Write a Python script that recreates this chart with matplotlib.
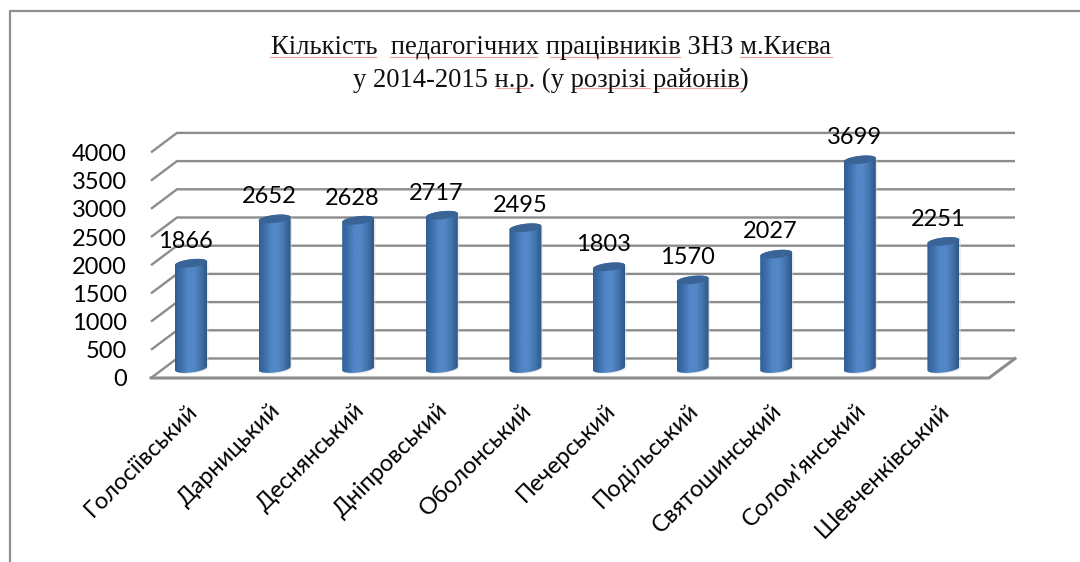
import numpy as np
import matplotlib
matplotlib.use("Agg")
import matplotlib.pyplot as plt
from matplotlib.colors import LinearSegmentedColormap
from matplotlib.lines import Line2D
from matplotlib.patches import Polygon
from matplotlib.transforms import ScaledTranslation

districts = ["Голосіївський", "Дарницький", "Деснянський", "Дніпровський", "Оболонський",
             "Печерський", "Подільський", "Святошинський", "Солом'янський", "Шевченківський"]
teachers = [1866, 2652, 2628, 2717, 2495, 1803, 1570, 2027, 3699, 2251]
y_ticks = [0, 500, 1000, 1500, 2000, 2500, 3000, 3500, 4000]

W, H = 1080, 562
LABEL_FONT = ["Lato", "Open Sans", "DejaVu Sans"]
TITLE_FONT = ["Liberation Serif", "DejaVu Serif"]
LABEL_SIZE = 17
GRID = "#8c8c8c"

# plot box in pixels of the picture
LEFT, RIGHT, TOP, BOTTOM = 151, 1015, 132, 378
PX_PER_UNIT = 0.0564
PX_PER_CAT = 83.6
FIRST_BAR = 191

fig = plt.figure(figsize=(W / 100, H / 100), dpi=100)
ax = fig.add_axes([LEFT / W, 1 - BOTTOM / H, (RIGHT - LEFT) / W, (BOTTOM - TOP) / H])
ax.set_xlim((LEFT - FIRST_BAR) / PX_PER_CAT, (RIGHT - FIRST_BAR) / PX_PER_CAT)
ax.set_ylim(0, (BOTTOM - TOP) / PX_PER_UNIT)
ax.patch.set_visible(False)
for s in ax.spines.values():
    s.set_visible(False)

# depth of the fake 3d box, in data units
back_dx = 26 / PX_PER_CAT
back_dy = 19.5 / PX_PER_UNIT
front_right = ax.get_xlim()[1] - back_dx
x_left = ax.get_xlim()[0]

# grid on back wall and side wall
for v in y_ticks:
    ax.plot([x_left, x_left + back_dx, ax.get_xlim()[1]], [v, v + back_dy, v + back_dy],
            color=GRID, lw=1.7, solid_capstyle="butt", solid_joinstyle="miter", clip_on=False, zorder=1)
ax.plot([x_left, front_right, ax.get_xlim()[1]], [0, 0, back_dy], color=GRID, lw=2.2,
        solid_joinstyle="miter", clip_on=False, zorder=1)

# cylinders
bar_cmap = LinearSegmentedColormap.from_list(
    "bar", ["#305f96", "#3f70ab", "#5287c8", "#5487c5", "#4374ad", "#2f5786"])
half_w = 16 / PX_PER_CAT
bar_base = 9.5 / PX_PER_UNIT
cap_h = 4 / PX_PER_UNIT
cap_tilt = 1.8 / PX_PER_UNIT
t = np.linspace(0, np.pi, 40)
grad = np.linspace(0, 1, 64).reshape(1, -1)
for i, v in enumerate(teachers):
    top = v + bar_base
    cx = i
    xs = cx + half_w * np.cos(t)
    top_arc = top + cap_h * np.sin(t) + cap_tilt * np.cos(t)
    low_arc = bar_base - cap_h * np.sin(t) + cap_tilt * np.cos(t)
    pts = np.vstack([np.column_stack([xs, low_arc]), np.column_stack([xs[::-1], top_arc[::-1]])])
    shadow = Polygon(pts + [1.5 / PX_PER_CAT, -1 / PX_PER_UNIT], closed=True, fc="#d5d8dc", ec="none",
                     alpha=0.5, zorder=2, clip_on=False)
    ax.add_patch(shadow)
    img = ax.imshow(grad, cmap=bar_cmap, extent=[cx - half_w, cx + half_w, bar_base - cap_h - 50, top + cap_h + 50],
                    aspect="auto", zorder=3, interpolation="bilinear")
    body = Polygon(pts, closed=True, transform=ax.transData)
    img.set_clip_path(body)
    tt = np.linspace(0, 2 * np.pi, 60)
    cap = Polygon(np.column_stack([cx + half_w * np.cos(tt), top + cap_h * np.sin(tt) + cap_tilt * np.cos(tt)]),
                  closed=True, fc="#3a6496", ec="none", zorder=4, clip_on=False)
    ax.add_patch(cap)
    ax.annotate(str(v), (cx, top), xytext=(-4, 16), textcoords="offset points", ha="center", va="center",
                fontsize=LABEL_SIZE, family=LABEL_FONT, color="black", zorder=5, annotation_clip=False)

ax.set_xlim((LEFT - FIRST_BAR) / PX_PER_CAT, (RIGHT - FIRST_BAR) / PX_PER_CAT)
ax.set_ylim(0, (BOTTOM - TOP) / PX_PER_UNIT)

ax.set_yticks(y_ticks)
ax.set_yticklabels([str(v) for v in y_ticks], fontsize=LABEL_SIZE, family=LABEL_FONT)
ax.set_xticks(range(len(districts)))
ax.set_xticklabels(districts, fontsize=LABEL_SIZE, family=LABEL_FONT, rotation=45, ha="right", va="center",
                   rotation_mode="anchor")
ax.tick_params(axis="y", length=0, pad=17.5)
ax.tick_params(axis="x", length=0, pad=21)
nudge = ScaledTranslation(2 / 72, 0, fig.dpi_scale_trans)
for lab in ax.get_xticklabels():
    lab.set_transform(lab.get_transform() + nudge)

# chart border, only top and left are inside the crop
fig.add_artist(Line2D([10 / W, 10 / W, 1], [0, 1 - 10.5 / H, 1 - 10.5 / H], color="#8f8f8f", lw=1.6))

fig.text(551 / W, 1 - 47 / H, "Кількість  педагогічних працівників ЗНЗ м.Києва", ha="center", va="center",
         fontsize=19.2, family=TITLE_FONT, color="#111111")
fig.text(551 / W, 1 - 80 / H, "у 2014-2015 н.р. (у розрізі районів)", ha="center", va="center",
         fontsize=19.2, family=TITLE_FONT, color="#111111")

# spell check underlines left in the screenshot
for x0, x1, y in [(270, 376, 57), (390, 537, 57), (550, 680, 57), (740, 832, 57),
                  (497, 530, 88), (575, 650, 88), (657, 743, 88)]:
    fig.add_artist(Line2D([x0 / W, x1 / W], [1 - y / H, 1 - y / H], color="#f2a6a6", lw=0.9))

fig.savefig("out.png", dpi=100, facecolor="white")
